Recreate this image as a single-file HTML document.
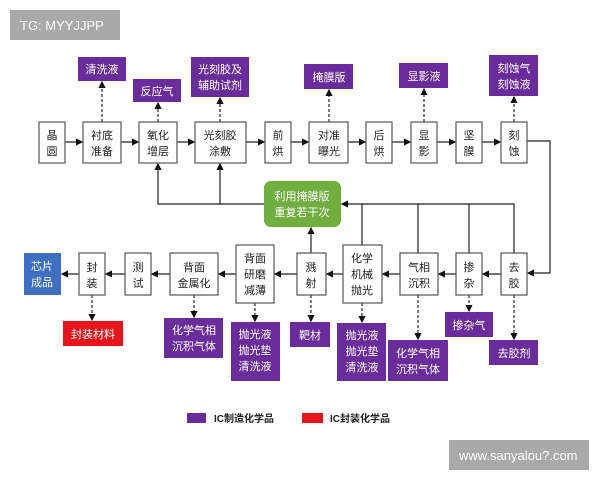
<!DOCTYPE html>
<html><head><meta charset="utf-8"><style>
body{margin:0;background:#fff;width:600px;height:480px;overflow:hidden}
svg text{font-family:"Liberation Sans","Noto Sans CJK SC",sans-serif}
</style></head><body>
<svg width="600" height="480" viewBox="0 0 600 480" xmlns="http://www.w3.org/2000/svg">
<defs>
<marker id="a" markerWidth="6" markerHeight="6" refX="5" refY="3" orient="auto"><path d="M0,0 L6,3 L0,6z" fill="#111"/></marker>
</defs>
<rect x="10" y="10" width="110" height="30" fill="#a9a9a9"/>
<text x="20" y="30" font-size="13" fill="#fff">TG: MYYJJPP</text>
<rect x="449" y="440" width="140" height="30" fill="#a9a9a9"/>
<text x="459" y="460" font-size="13" fill="#fff">www.sanyalou?.com</text>

<g stroke="#222" stroke-width="1.2" fill="none">
<!-- top row arrows -->
<line x1="65" y1="142" x2="82" y2="142" marker-end="url(#a)"/>
<line x1="121" y1="142" x2="138" y2="142" marker-end="url(#a)"/>
<line x1="177" y1="142" x2="194" y2="142" marker-end="url(#a)"/>
<line x1="246" y1="142" x2="264" y2="142" marker-end="url(#a)"/>
<line x1="291" y1="142" x2="308" y2="142" marker-end="url(#a)"/>
<line x1="348" y1="142" x2="365" y2="142" marker-end="url(#a)"/>
<line x1="392" y1="142" x2="410" y2="142" marker-end="url(#a)"/>
<line x1="437" y1="142" x2="455" y2="142" marker-end="url(#a)"/>
<line x1="482" y1="142" x2="500" y2="142" marker-end="url(#a)"/>
<!-- right loop -->
<polyline points="527,141 550,141 550,273 528,273" marker-end="url(#a)"/>
<!-- feedback -->
<polyline points="264,204 158,204 158,164" marker-end="url(#a)"/>
<line x1="220" y1="204" x2="220" y2="164" marker-end="url(#a)"/>
<polyline points="514,253 514,204 342,204" marker-end="url(#a)"/>
<line x1="362" y1="204" x2="362" y2="245"/>
<line x1="418" y1="204" x2="418" y2="253"/>
<line x1="469" y1="204" x2="469" y2="253"/>
<line x1="311" y1="253" x2="311" y2="228" marker-end="url(#a)"/>
<!-- bottom row arrows (leftwards) -->
<line x1="501" y1="274" x2="483" y2="274" marker-end="url(#a)"/>
<line x1="456" y1="274" x2="439" y2="274" marker-end="url(#a)"/>
<line x1="400" y1="274" x2="383" y2="274" marker-end="url(#a)"/>
<line x1="343" y1="274" x2="327" y2="274" marker-end="url(#a)"/>
<line x1="297" y1="274" x2="275" y2="274" marker-end="url(#a)"/>
<line x1="236" y1="274" x2="219" y2="274" marker-end="url(#a)"/>
<line x1="170" y1="274" x2="152" y2="274" marker-end="url(#a)"/>
<line x1="125" y1="274" x2="106" y2="274" marker-end="url(#a)"/>
<line x1="79" y1="274" x2="62" y2="274" marker-end="url(#a)"/>
</g>
<g stroke="#222" stroke-width="1.2" stroke-dasharray="3,2" fill="none">
<line x1="102" y1="122" x2="102" y2="82" marker-end="url(#a)"/>
<line x1="158" y1="122" x2="158" y2="103" marker-end="url(#a)"/>
<line x1="220" y1="122" x2="220" y2="98" marker-end="url(#a)"/>
<line x1="329" y1="122" x2="329" y2="90" marker-end="url(#a)"/>
<line x1="424" y1="122" x2="424" y2="89" marker-end="url(#a)"/>
<line x1="514" y1="122" x2="514" y2="97" marker-end="url(#a)"/>
<line x1="92" y1="295" x2="92" y2="320" marker-end="url(#a)"/>
<line x1="194" y1="295" x2="194" y2="317" marker-end="url(#a)"/>
<line x1="255" y1="303" x2="255" y2="321" marker-end="url(#a)"/>
<line x1="311" y1="295" x2="311" y2="321" marker-end="url(#a)"/>
<line x1="362" y1="303" x2="362" y2="322" marker-end="url(#a)"/>
<line x1="418" y1="295" x2="418" y2="339" marker-end="url(#a)"/>
<line x1="469" y1="295" x2="469" y2="311" marker-end="url(#a)"/>
<line x1="514" y1="295" x2="514" y2="339" marker-end="url(#a)"/>
</g>

<g fill="#fff" stroke="#555" stroke-width="1.2">
<rect x="39" y="122" width="26" height="41"/><rect x="83" y="122" width="38" height="41"/>
<rect x="139" y="122" width="38" height="41"/><rect x="195" y="122" width="51" height="41"/>
<rect x="265" y="122" width="26" height="41"/><rect x="309" y="122" width="39" height="41"/>
<rect x="366" y="122" width="26" height="41"/><rect x="411" y="122" width="26" height="41"/>
<rect x="456" y="122" width="26" height="41"/><rect x="501" y="122" width="26" height="41"/>
<rect x="79" y="253" width="26" height="42"/><rect x="125" y="253" width="26" height="42"/>
<rect x="170" y="253" width="48" height="42"/><rect x="236" y="245" width="38" height="58"/>
<rect x="297" y="253" width="29" height="42"/><rect x="343" y="245" width="39" height="58"/>
<rect x="400" y="253" width="38" height="42"/><rect x="456" y="253" width="26" height="42"/>
<rect x="501" y="253" width="26" height="42"/>
</g>
<rect x="264" y="181" width="77" height="46" rx="7" fill="#6fae3f"/>
<rect x="24" y="253" width="37" height="42" fill="#3e6fc0"/>
<g fill="#6a2c9a">
<rect x="78" y="57" width="48" height="24"/><rect x="133" y="79" width="48" height="23"/>
<rect x="191" y="57" width="58" height="40"/><rect x="304" y="64" width="49" height="25"/>
<rect x="399" y="63" width="49" height="25"/><rect x="489" y="55" width="49" height="41"/>
<rect x="164" y="318" width="59" height="40"/><rect x="231" y="322" width="49" height="59"/>
<rect x="290" y="322" width="40" height="25"/><rect x="337" y="323" width="49" height="58"/>
<rect x="388" y="340" width="60" height="41"/><rect x="445" y="312" width="48" height="25"/>
<rect x="489" y="340" width="49" height="25"/>
<rect x="187" y="413" width="19" height="10"/>
</g>
<rect x="63" y="321" width="60" height="25" fill="#e8141a"/>
<rect x="302" y="413" width="21" height="10" fill="#e8141a"/>

<g font-size="11" fill="#222" text-anchor="middle">
<text x="52" y="139">晶</text><text x="52" y="155">圆</text>
<text x="102" y="139">衬底</text><text x="102" y="155">准备</text>
<text x="158" y="139">氧化</text><text x="158" y="155">增层</text>
<text x="220" y="139">光刻胶</text><text x="220" y="155">涂敷</text>
<text x="278" y="139">前</text><text x="278" y="155">烘</text>
<text x="329" y="139">对准</text><text x="329" y="155">曝光</text>
<text x="379" y="139">后</text><text x="379" y="155">烘</text>
<text x="424" y="139">显</text><text x="424" y="155">影</text>
<text x="469" y="139">坚</text><text x="469" y="155">膜</text>
<text x="514" y="139">刻</text><text x="514" y="155">蚀</text>
<text x="92" y="271">封</text><text x="92" y="287">装</text>
<text x="138" y="271">测</text><text x="138" y="287">试</text>
<text x="194" y="271">背面</text><text x="194" y="287">金属化</text>
<text x="255" y="262">背面</text><text x="255" y="278">研磨</text><text x="255" y="294">减薄</text>
<text x="311" y="271">溅</text><text x="311" y="287">射</text>
<text x="362" y="262">化学</text><text x="362" y="278">机械</text><text x="362" y="294">抛光</text>
<text x="419" y="271">气相</text><text x="419" y="287">沉积</text>
<text x="469" y="271">掺</text><text x="469" y="287">杂</text>
<text x="514" y="271">去</text><text x="514" y="287">胶</text>
</g>
<g font-size="11" fill="#fff" text-anchor="middle">
<text x="302" y="200">利用掩膜版</text><text x="302" y="216">重复若干次</text>
<text x="42" y="270">芯片</text><text x="42" y="286">成品</text>
<text x="102" y="73">清洗液</text><text x="157" y="95">反应气</text>
<text x="220" y="73">光刻胶及</text><text x="220" y="89">辅助试剂</text>
<text x="329" y="81">掩膜版</text><text x="424" y="80">显影液</text>
<text x="514" y="72">刻蚀气</text><text x="514" y="88">刻蚀液</text>
<text x="93" y="338">封装材料</text>
<text x="194" y="334">化学气相</text><text x="194" y="350">沉积气体</text>
<text x="255" y="338">抛光液</text><text x="255" y="354">抛光垫</text><text x="255" y="370">清洗液</text>
<text x="310" y="339">靶材</text>
<text x="362" y="339">抛光液</text><text x="362" y="355">抛光垫</text><text x="362" y="371">清洗液</text>
<text x="418" y="357">化学气相</text><text x="418" y="373">沉积气体</text>
<text x="469" y="329">掺杂气</text><text x="514" y="357">去胶剂</text>
</g>
<g font-size="10" font-weight="bold" fill="#222">
<text x="214" y="422">IC制造化学品</text><text x="330" y="422">IC封装化学品</text>
</g>
</svg>
</body></html>
